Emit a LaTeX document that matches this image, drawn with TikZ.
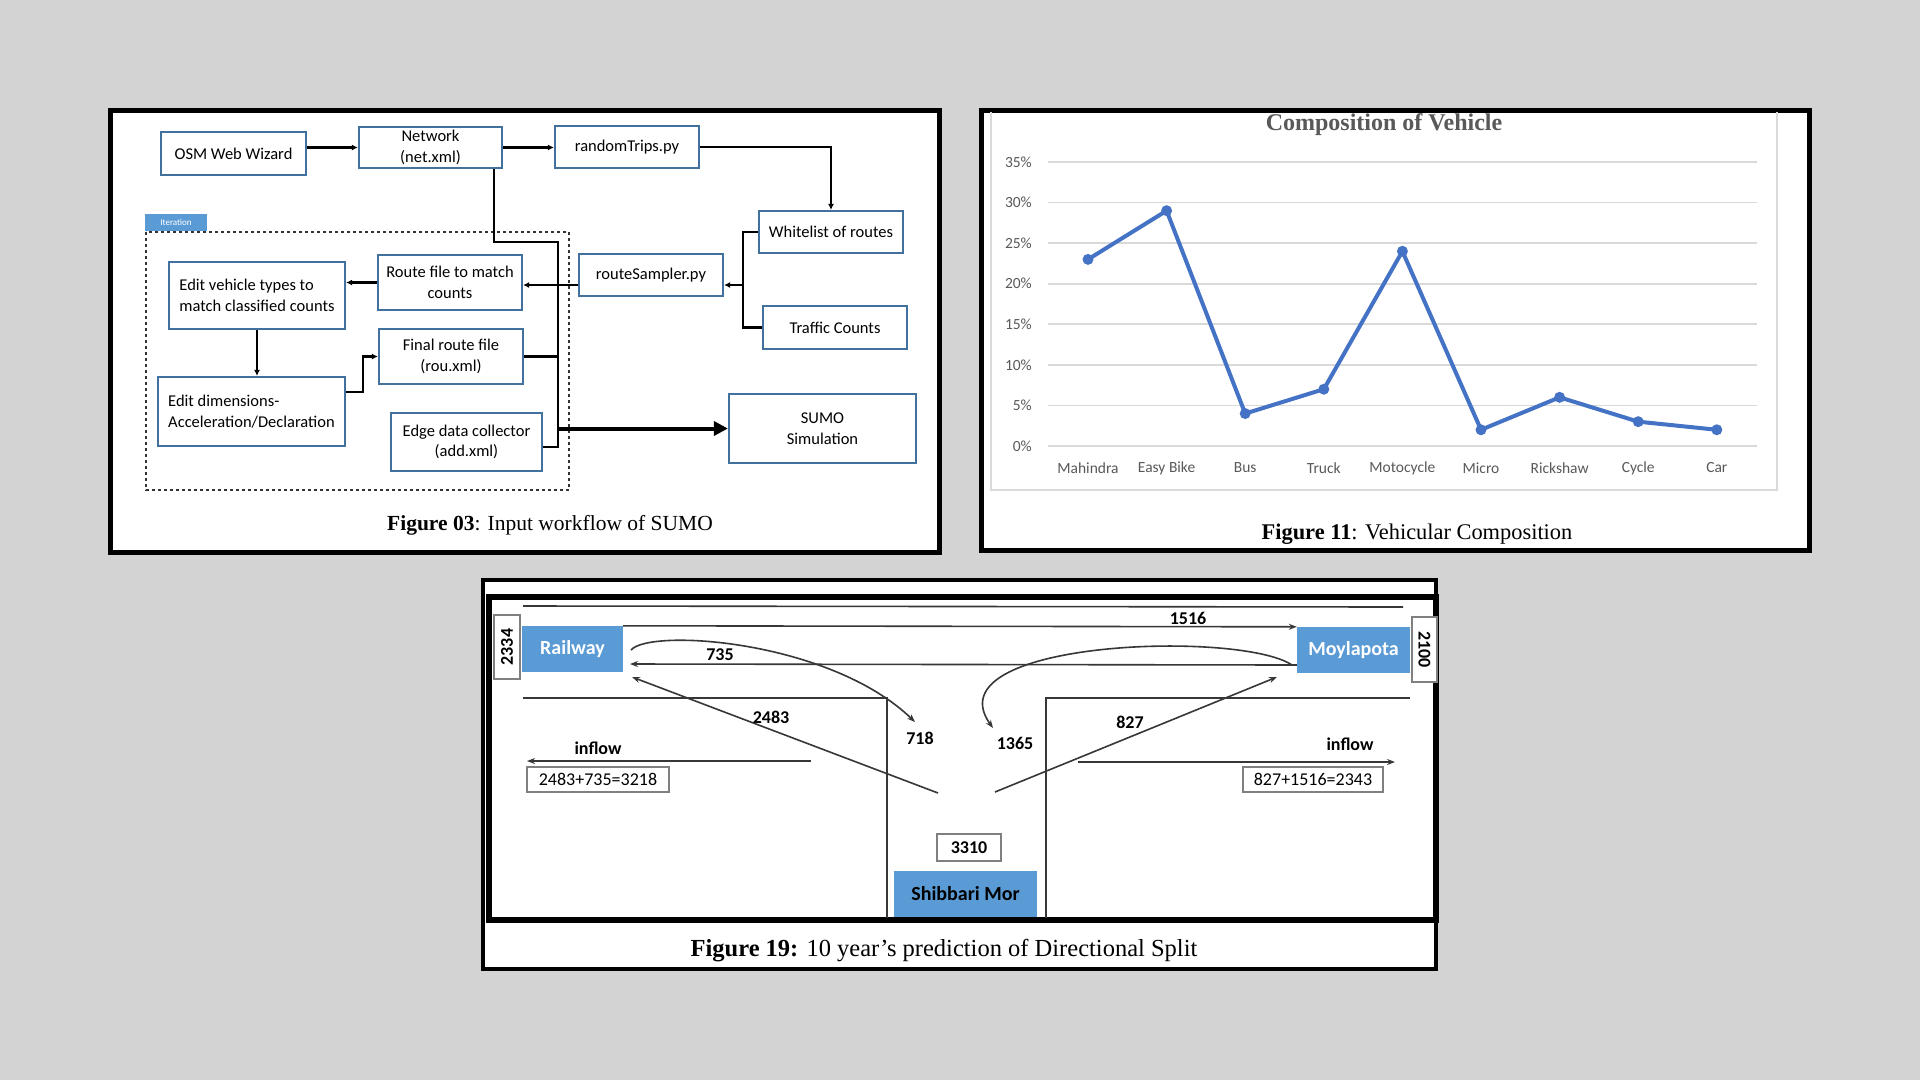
\documentclass[tikz,border=0pt]{standalone}
\usepackage{fontspec}
\setmainfont{Liberation Serif}
\newfontfamily\calibri{Carlito}
\usetikzlibrary{arrows.meta,calc}
\definecolor{bgc}{RGB}{211,211,211}
\definecolor{boxline}{RGB}{65,113,156}
\definecolor{tabblue}{RGB}{91,155,213}
\definecolor{chartblue}{RGB}{68,114,196}
\definecolor{gridc}{RGB}{217,217,217}
\definecolor{axistext}{RGB}{89,89,89}
\definecolor{roadc}{RGB}{55,55,55}
\newcommand\fsz[2]{\fontsize{#1}{#2}\selectfont}
\begin{document}
\begin{tikzpicture}[x=1pt,y=-1pt,
  wfbox/.style={draw=boxline, line width=2.2pt, fill=white, inner sep=0pt,
    align=center, font=\calibri\fsz{16.5}{20.5}},
  conn/.style={line width=2.4pt, black},
  arr/.style={conn, -{Latex[length=6pt,width=6pt]}},
  bigarr/.style={line width=4pt, black, -{Triangle[length=14pt,width=14pt]}},
  panelframe/.style={draw=black, line width=5pt, fill=white},
  roadline/.style={draw=roadc, line width=1.6pt},
  flow/.style={roadline, -{Stealth[length=8pt,width=6pt]}},
  sitebox/.style={fill=tabblue, inner sep=0pt, font=\calibri\bfseries\fsz{20}{24}},
  vol/.style={inner sep=0pt, font=\calibri\bfseries\fsz{18}{22}},
  sumbox/.style={draw=gray, line width=1.3pt, fill=white, inner sep=0pt,
    font=\calibri\fsz{18}{22}},
  tick/.style={inner sep=0pt, text=axistext, font=\calibri\fsz{15.5}{18}}
]
% page background
\fill[bgc] (0,0) rectangle (1920,1080);
\useasboundingbox (0,0) rectangle (1920,1080);

% ================= Figure 03: workflow =================
\draw[panelframe] (110,110) rectangle (939,552);

% iteration group
\draw[black!80, line width=1.2pt, dashed] (146,232) rectangle (569,490);
\node[fill=tabblue, text=white, inner sep=0pt, minimum width=62, minimum height=17,
  font=\calibri\fsz{9}{10}] (itertab) at (176,222.5) {Iteration};

\node[wfbox, minimum width=145, minimum height=43] (osm) at (233.5,153.5) {OSM Web Wizard};
\node[wfbox, minimum width=143, minimum height=41] (net) at (430.5,147.5) {Network\\(net.xml)};
\node[wfbox, minimum width=144, minimum height=42] (rand) at (627,147) {randomTrips.py};
\node[wfbox, minimum width=144, minimum height=42] (white) at (831,232) {Whitelist of routes};
\node[wfbox, minimum width=144, minimum height=42] (rsamp) at (651,275) {routeSampler.py};
\node[wfbox, minimum width=144, minimum height=43] (traffic) at (835,327.5) {Traffic Counts};
\node[wfbox, minimum width=144, minimum height=55] (route) at (450,282.5) {Route file to match\\counts};
\node[wfbox, minimum width=176, minimum height=67, align=left] (editveh) at (257,295.5) {Edit vehicle types to\\match classified counts};
\node[wfbox, minimum width=144, minimum height=55] (final) at (451,356.5) {Final route file\\(rou.xml)};
\node[wfbox, minimum width=187, minimum height=69, align=left] (editdim) at (251.5,411.5) {Edit dimensions-\\Acceleration/Declaration};
\node[wfbox, minimum width=151, minimum height=58] (edge) at (466.5,442) {Edge data collector\\(add.xml)};
\node[wfbox, minimum width=187, minimum height=69] (sumo) at (822.5,428.5) {SUMO\\Simulation};

\coordinate (jn) at (743,285);
\coordinate (bus) at (558,242);
\coordinate (busb) at (558,447);
\coordinate (bend) at (363,392);

\draw[arr] (osm.east |- net.west) -- (net.west);
\draw[arr] (net.east) -- (net.east -| rand.west);
\draw[arr] (rand.east) -| (white.north);
\draw[conn] (white.west) -| (jn) |- (traffic.west);
\draw[arr] (jn) -- (jn -| rsamp.east);
\draw[arr] (rsamp.west |- jn) -- (jn -| route.east);
\draw[arr] (route.west) -- (route.west -| editveh.east);
\draw[arr] (editveh.south) -- (editveh.south |- editdim.north);
\draw[arr] (editdim.east |- bend) -- (bend) |- (final.west);
\draw[conn] (net.south east) ++(-9,0) |- (bus) -- (busb) -- (busb -| edge.east);
\draw[conn] (final.east) -- (final.east -| bus);
\draw[bigarr] (bus |- sumo.west) -- (sumo.west);

\node[font=\fsz{21.5}{25}] (cap03) at (550,525) {\textbf{Figure 03}: Input workflow of SUMO};

% ================= Figure 11: chart =================
\draw[panelframe] (981,110) rectangle (1809,550);
\draw[gridc, line width=1.5pt] (991,112) -- (991,490) -- (1777,490) -- (1777,112);
\node[font=\bfseries\fsz{24}{28}, text=axistext] (ctitle) at (1384,125) {Composition of Vehicle};

\foreach \k in {0,...,7} {
  \pgfmathsetmacro\yy{446-\k*40.571}
  \draw[gridc, line width=1.6pt] (1048,\yy) -- (1757,\yy);
  \pgfmathtruncatemacro\pct{\k*5}
  \node[tick, anchor=east] (yl\k) at (1032,\yy) {\pct\%};
}

\foreach \v/\lab [count=\i from 0] in {23/Mahindra,29/Easy Bike,4/Bus,7/Truck,24/Motocycle,2/Micro,6/Rickshaw,3/Cycle,2/Car} {
  \coordinate (p\i) at ({1088+78.6*\i},{446-8.114*\v});
  \node[tick] (xl\i) at ({1088+78.6*\i},468) {\lab};
}
\draw[chartblue, line width=4pt, line join=round] (p0) -- (p1) -- (p2) -- (p3) -- (p4) -- (p5) -- (p6) -- (p7) -- (p8);
\foreach \i in {0,...,8} { \fill[chartblue] (p\i) circle[radius=5.5pt]; }

\node[font=\fsz{22.4}{26}] (cap11) at (1417,534) {\textbf{Figure 11}: Vehicular Composition};

% ================= Figure 19: directional split =================
\draw[draw=black, line width=4pt, fill=white] (483,580) rectangle (1436,969);
\draw[black, line width=6pt] (489,597) rectangle (1436,920);

% road edges
\draw[roadline] (523,606) -- (1403,607);
\draw[roadline] (523,698) -- (887,698) -- (887,918);
\draw[roadline] (1410,698) -- (1046,698) -- (1046,918);

\node[sitebox, text=white, minimum width=101, minimum height=46] (rail) at (572.5,649) {Railway};
\node[sitebox, text=white, minimum width=113, minimum height=46] (moyla) at (1353.5,650) {Moylapota};
\node[sitebox, text=black, minimum width=143, minimum height=46] (shib) at (965.5,894) {Shibbari Mor};

\node[sumbox, font=\calibri\bfseries\fsz{18}{22}, rotate=90, minimum width=64, minimum height=26] (n2334) at (507,647) {2334};
\node[sumbox, font=\calibri\bfseries\fsz{18}{22}, rotate=-90, minimum width=65, minimum height=25] (n2100) at (1424.5,649.5) {2100};
\node[sumbox, font=\calibri\bfseries\fsz{18}{22}, minimum width=64, minimum height=27] (n3310) at (969,847.5) {3310};
\node[sumbox, minimum width=142, minimum height=25] (sumL) at (598,779.5) {2483+735=3218};
\node[sumbox, minimum width=140, minimum height=25] (sumR) at (1313,779.5) {827+1516=2343};

% turning movements
\coordinate (railin) at (630,664);
\coordinate (railout) at (631,650);
\coordinate (moyout) at (1292,665);
\coordinate (t718) at (915,722);
\coordinate (t1365) at (993,728);
\coordinate (fromS1) at (938,793);
\coordinate (fromS2) at (995,792);
\coordinate (railin2) at (632,677);
\coordinate (moyin) at (1277,677);
\coordinate (infL0) at (811,761);
\coordinate (infL1) at (527,761);
\coordinate (infR0) at (1078,762);
\coordinate (infR1) at (1395,762);

\draw[flow] (rail.north east) -- (moyla.north west);
\draw[flow] (moyout -| moyla.west) -- (railin);
\draw[flow] (railout) .. controls (650,628) and (830,640) .. (t718);
\draw[flow] (moyout) .. controls (1240,630) and (930,640) .. (t1365);
\draw[flow] (fromS1) -- (railin2);
\draw[flow] (fromS2) -- (moyin);
\draw[flow] (infL0) -- (infL1);
\draw[flow] (infR0) -- (infR1);

\node[vol] (l1516) at (1188,618) {1516};
\node[vol] (l735) at (720,655) {735};
\node[vol] (l2483) at (771,717) {2483};
\node[vol] (l718) at (920,738) {718};
\node[vol] (l1365) at (1015,743) {1365};
\node[vol] (l827) at (1130,722) {827};
\node[vol] (inL) at (598,748) {inflow};
\node[vol] (inR) at (1350,744) {inflow};

\node[font=\fsz{24.5}{28}] (cap19) at (944,951) {\textbf{Figure 19:} 10 year’s prediction of Directional Split};
\end{tikzpicture}
\end{document}
